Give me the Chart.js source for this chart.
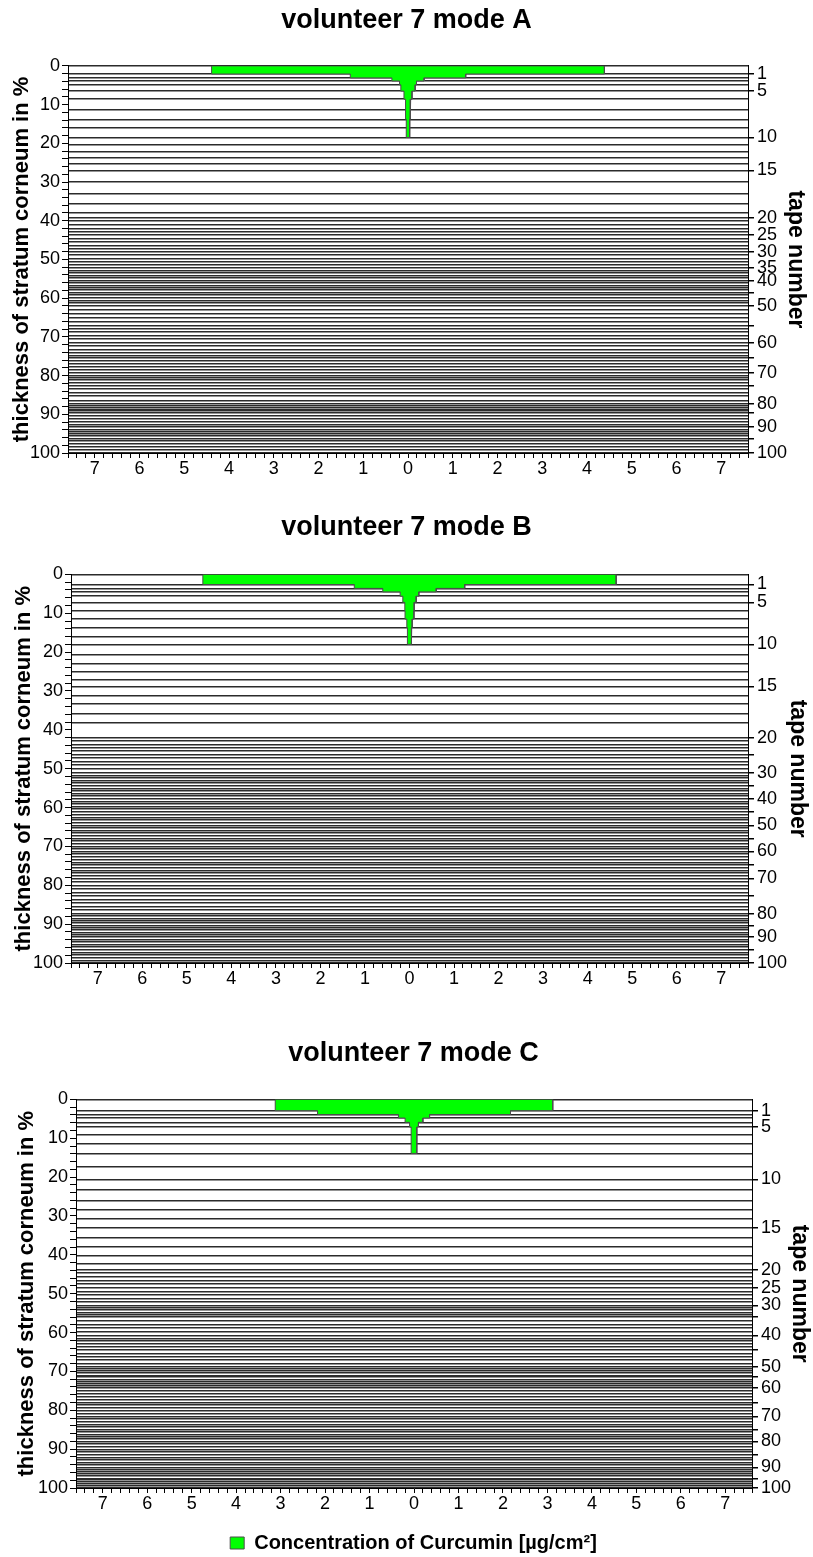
<!DOCTYPE html>
<html>
<head>
<meta charset="utf-8">
<script src="https://cdn.jsdelivr.net/npm/chart.js@4.4.0/dist/chart.umd.min.js"></script>
<style>
  html, body { margin: 0; padding: 0; background: #fff; overflow: hidden; }
  .panel { position: absolute; left: 0; width: 813px; }
</style>
</head>
<body>
<div class="panel" style="top:0;height:488px"><canvas id="chartA"></canvas></div>
<div class="panel" style="top:505px;height:493px"><canvas id="chartB"></canvas></div>
<div class="panel" style="top:1030px;height:533px"><canvas id="chartC"></canvas></div>
<script>
// cumulative depth (% of stratum corneum) at the bottom of each tape, tapes 1..100
const depthA = [2.1, 3.1, 3.9, 4.9, 6.5, 8.6, 11.3, 13.8, 15.9, 18.5,
  20.3, 22.2, 23.8, 25.3, 27.0, 30.0, 33.0, 35.5, 38.0, 39.2,
  40.0, 41.1, 42.0, 42.8, 43.6, 44.6, 45.5, 46.4, 47.2, 48.1,
  48.9, 49.8, 50.6, 51.3, 52.1, 52.8, 53.5, 54.1, 54.8, 55.5,
  56.1, 56.8, 57.3, 57.9, 58.5, 59.2, 60.0, 60.6, 61.3, 62.0,
  63.0, 64.1, 65.0, 66.0, 67.0, 67.8, 68.8, 69.6, 70.6, 71.5,
  72.4, 73.3, 74.0, 74.8, 75.5, 76.2, 77.0, 77.8, 78.6, 79.3,
  80.0, 80.6, 81.2, 81.9, 82.5, 83.4, 84.4, 85.3, 86.4, 87.3,
  87.8, 88.3, 88.8, 89.2, 89.7, 90.4, 91.1, 91.9, 92.6, 93.3,
  93.9, 94.5, 95.1, 95.6, 96.2, 96.9, 97.7, 98.4, 99.2, 100];
const depthB = [2.6, 3.6, 4.5, 5.6, 7.2, 9.4, 11.5, 13.7, 16.0, 18.0,
  20.6, 22.9, 25.1, 27.0, 28.8, 31.2, 33.4, 35.8, 38.3, 42.0,
  42.9, 43.8, 44.6, 45.5, 46.4, 47.3, 48.2, 49.1, 50.0, 51.0,
  51.7, 52.4, 53.0, 53.7, 54.4, 55.1, 55.7, 56.4, 57.0, 57.7,
  58.4, 59.1, 59.7, 60.4, 61.1, 61.8, 62.5, 63.2, 63.9, 64.6,
  65.3, 66.0, 66.6, 67.3, 68.0, 68.6, 69.3, 70.0, 70.6, 71.3,
  72.0, 72.7, 73.4, 74.1, 74.8, 75.5, 76.2, 76.8, 77.5, 78.2,
  79.1, 80.0, 80.9, 81.8, 82.7, 83.6, 84.5, 85.5, 86.4, 87.3,
  87.9, 88.5, 89.1, 89.7, 90.3, 90.9, 91.5, 92.1, 92.7, 93.3,
  94.0, 94.6, 95.3, 95.9, 96.6, 97.3, 98.0, 98.6, 99.3, 100];
const depthC = [2.9, 3.9, 4.8, 5.9, 7.1, 9.2, 11.5, 13.9, 17.3, 20.6,
  23.3, 26.1, 28.4, 30.6, 33.0, 35.5, 38.0, 40.2, 42.2, 43.8,
  44.7, 45.6, 46.6, 47.5, 48.5, 49.4, 50.3, 51.2, 52.1, 53.0,
  53.6, 54.2, 54.8, 55.4, 56.0, 57.0, 57.9, 58.8, 59.7, 60.7,
  61.5, 62.2, 63.0, 63.7, 64.5, 65.4, 66.2, 67.1, 67.9, 68.8,
  69.3, 69.9, 70.4, 71.0, 71.5, 72.1, 72.6, 73.2, 73.7, 74.3,
  75.0, 75.8, 76.5, 77.3, 78.0, 78.7, 79.4, 80.2, 80.9, 81.6,
  82.3, 83.0, 83.6, 84.3, 85.0, 85.6, 86.2, 86.8, 87.4, 88.0,
  88.7, 89.4, 90.1, 90.8, 91.5, 92.1, 92.8, 93.4, 94.1, 94.7,
  95.3, 95.8, 96.4, 96.9, 97.5, 98.0, 98.5, 99.0, 99.5, 100];

// curcumin concentration per tape (µg/cm²), drawn symmetric around 0
const concA = [4.39, 1.29, 0.36, 0.19, 0.16, 0.09, 0.06, 0.045, 0.04, 0.037];
const concB = [4.64, 1.24, 0.60, 0.21, 0.15, 0.105, 0.10, 0.06, 0.05, 0.04];
const concC = [3.12, 2.17, 0.35, 0.20, 0.10, 0.065, 0.065, 0.06];

// right axis: tapes that get a tick mark, and those that get a label
const tapeTicks = [1, 5, 10, 15, 20, 25, 30, 35, 40, 45, 50, 55, 60, 65, 70, 75, 80, 85, 90, 95, 100];
const tapeLabelsA = [1, 5, 10, 15, 20, 25, 30, 35, 40, 50, 60, 70, 80, 90, 100];
const tapeLabelsB = [1, 5, 10, 15, 20, 30, 40, 50, 60, 70, 80, 90, 100];
const tapeLabelsC = [1, 5, 10, 15, 20, 25, 30, 40, 50, 60, 70, 80, 90, 100];

const GREEN = '#00ff00';
const FONT = "'Liberation Sans', Arial, sans-serif";

// tick positions for the two linear axes (minor steps)
const xTickValues = [];
for (let k = -38; k <= 38; k++) xTickValues.push(k / 5);
const depthTickValues = [];
for (let v = 0; v <= 100; v += 2) depthTickValues.push(v);

// outline of the stepped profile: down the right side, back up the left side
function profilePoints(depths, conc) {
  const pts = [{x: -conc[0], y: 0}, {x: conc[0], y: 0}];
  for (let i = 0; i < conc.length; i++) {
    pts.push({x: conc[i], y: depths[i]});
    if (i + 1 < conc.length) pts.push({x: conc[i + 1], y: depths[i]});
  }
  for (let i = conc.length - 1; i >= 0; i--) {
    pts.push({x: -conc[i], y: depths[i]});
    pts.push({x: -conc[i], y: i === 0 ? 0 : depths[i - 1]});
  }
  return pts;
}

function drawPanel(id, p) {
  const boundaries = [0].concat(p.depths);
  return new Chart(document.getElementById(id), {
    type: 'scatter',
    data: {
      datasets: [{
        label: 'Concentration of Curcumin [µg/cm²]',
        data: profilePoints(p.depths, p.conc),
        showLine: true,
        fill: 'shape',
        backgroundColor: GREEN,
        borderColor: '#4d4d4d',
        borderWidth: 1,
        pointRadius: 0,
        pointHoverRadius: 0,
        tension: 0,
        yAxisID: 'y'
      }]
    },
    options: {
      responsive: true,
      maintainAspectRatio: false,
      animation: false,
      events: [],
      layout: { padding: { left: p.padLeft } },
      plugins: {
        title: {
          display: true,
          text: p.title,
          color: '#000',
          font: { family: FONT, size: 27, weight: 'bold' },
          padding: p.titlePad
        },
        legend: {
          display: p.legend,
          position: 'bottom',
          labels: {
            color: '#000',
            boxWidth: 14,
            boxHeight: 12,
            padding: 10,
            font: { family: FONT, size: 20, weight: 'bold' }
          }
        },
        tooltip: { enabled: false }
      },
      scales: {
        x: {
          type: 'linear',
          min: -7.6,
          max: 7.6,
          afterBuildTicks: s => { s.ticks = xTickValues.map(v => ({value: v})) },
          afterFit: s => { s.height = p.xHeight },
          grid: { drawOnChartArea: false, tickLength: 5, tickColor: '#000' },
          border: { color: '#000', width: 1 },
          ticks: {
            autoSkip: false,
            maxRotation: 0,
            padding: 0,
            color: '#000',
            font: { family: FONT, size: 18 },
            callback: v => {
              const k = Math.round(v * 5)
              return k % 5 === 0 ? String(Math.abs(k / 5)) : ''
            }
          }
        },
        y: {
          type: 'linear',
          position: 'left',
          reverse: true,
          min: 0,
          max: 100,
          afterBuildTicks: s => { s.ticks = depthTickValues.map(v => ({value: v})) },
          afterFit: s => { s.width = p.leftWidth },
          grid: { drawOnChartArea: false, tickLength: 6, tickColor: '#000' },
          border: { color: '#000', width: 1 },
          ticks: {
            autoSkip: false,
            padding: 2,
            color: '#000',
            font: { family: FONT, size: 18 },
            callback: v => (Math.round(v) % 10 === 0 ? String(Math.round(v)) : '')
          },
          title: {
            display: true,
            text: 'thickness of stratum corneum in %',
            color: '#000',
            font: { family: FONT, size: 22, weight: 'bold' },
            padding: { top: p.leftTitlePad, bottom: 0 }
          }
        },
        y2: {
          type: 'linear',
          position: 'right',
          reverse: true,
          min: 0,
          max: 100,
          z: 1,
          afterBuildTicks: s => { s.ticks = boundaries.map(v => ({value: v})) },
          afterFit: s => { s.width = p.rightWidth },
          grid: {
            color: '#2b2b2b',
            lineWidth: 1.5,
            tickLength: 6,
            tickColor: c => (tapeTicks.includes(c.index) ? '#000' : 'rgba(0,0,0,0)')
          },
          border: { color: '#000', width: 1 },
          ticks: {
            autoSkip: false,
            padding: 3,
            color: '#000',
            font: { family: FONT, size: 18 },
            callback: (v, i) => (p.labels.includes(i) ? String(i) : '')
          },
          title: {
            display: true,
            text: 'tape number',
            color: '#000',
            font: { family: FONT, size: 23, weight: 'bold' },
            padding: { top: p.rightTitlePad, bottom: 0 }
          }
        }
      }
    }
  })
}

drawPanel('chartA', {
  title: 'volunteer 7 mode A', depths: depthA, conc: concA, labels: tapeLabelsA,
  titlePad: { top: 4, bottom: 29.5 }, padLeft: 0, leftWidth: 68, rightWidth: 65, xHeight: 35,
  leftTitlePad: 8.8, rightTitlePad: 4.2, legend: false
})
drawPanel('chartB', {
  title: 'volunteer 7 mode B', depths: depthB, conc: concB, labels: tapeLabelsB,
  titlePad: { top: 6, bottom: 31 }, padLeft: 0, leftWidth: 71, rightWidth: 65, xHeight: 35,
  leftTitlePad: 10.8, rightTitlePad: 2.2, legend: false
})
drawPanel('chartC', {
  title: 'volunteer 7 mode C', depths: depthC, conc: concC, labels: tapeLabelsC,
  titlePad: { top: 7, bottom: 30 }, padLeft: 14, leftWidth: 62, rightWidth: 61, xHeight: 35,
  leftTitlePad: 0, rightTitlePad: 0, legend: true
})
</script>
</body>
</html>
